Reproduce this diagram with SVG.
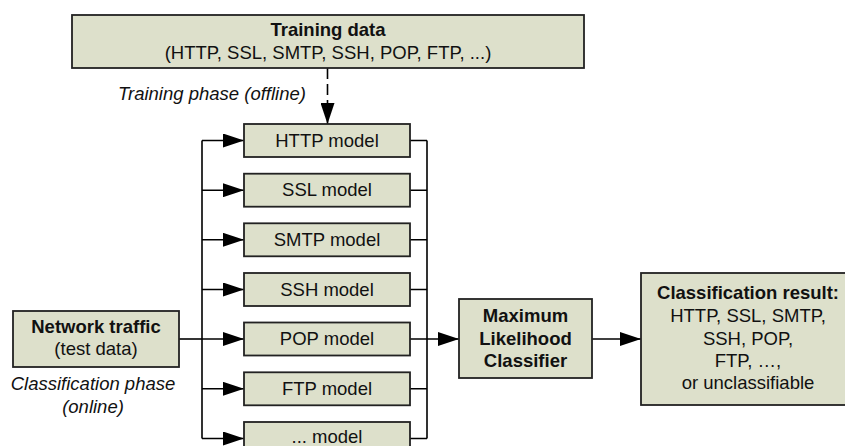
<svg xmlns="http://www.w3.org/2000/svg" width="845" height="446" viewBox="0 0 845 446">
<defs>
<marker id="arr" markerUnits="userSpaceOnUse" markerWidth="22" markerHeight="14" refX="21" refY="7" orient="auto">
<path d="M0,0 L21,7 L0,14 z" fill="#000"/>
</marker>
<style>
.box{fill:#dde0cb;stroke:#222;stroke-width:1.8}
.t{font-family:"Liberation Sans",Arial,sans-serif;font-size:18.5px;fill:#111;text-anchor:middle}
.b{font-weight:bold}
.i{font-style:italic}
.ln{fill:none;stroke:#000;stroke-width:1.6}
</style>
</defs>
<rect width="845" height="446" fill="#fff"/>
<g id="connectors">
<line class="ln" x1="327.5" y1="68" x2="327.5" y2="124" stroke-dasharray="11,5" marker-end="url(#arr)"/>
<path class="ln" d="M202,140.5 V438.5 M427,140.5 V438.5"/>
<line class="ln" x1="179" y1="339" x2="202" y2="339"/>
<line class="ln" x1="202" y1="140.5" x2="244" y2="140.5" marker-end="url(#arr)"/>
<line class="ln" x1="202" y1="190.2" x2="244" y2="190.2" marker-end="url(#arr)"/>
<line class="ln" x1="202" y1="239.8" x2="244" y2="239.8" marker-end="url(#arr)"/>
<line class="ln" x1="202" y1="289.5" x2="244" y2="289.5" marker-end="url(#arr)"/>
<line class="ln" x1="202" y1="339" x2="244" y2="339" marker-end="url(#arr)"/>
<line class="ln" x1="202" y1="388.8" x2="244" y2="388.8" marker-end="url(#arr)"/>
<line class="ln" x1="202" y1="438.5" x2="244" y2="438.5" marker-end="url(#arr)"/>
<path class="ln" d="M410,140.5 H427 M410,190.2 H427 M410,239.8 H427 M410,289.5 H427 M410,388.8 H427 M410,438.5 H427"/>
<line class="ln" x1="410" y1="339" x2="459" y2="339" marker-end="url(#arr)"/>
<line class="ln" x1="592" y1="339" x2="641" y2="339" marker-end="url(#arr)"/>
</g>
<g id="training-data">
<rect class="box" x="72" y="15" width="512" height="53"/>
<text class="t b" x="328" y="36">Training data</text>
<text class="t" x="328" y="59">(HTTP, SSL, SMTP, SSH, POP, FTP, ...)</text>
</g>
<text class="t i" x="212" y="100">Training phase (offline)</text>
<g id="http-model"><rect class="box" x="244" y="124" width="166" height="33"/><text class="t" x="327" y="146.5">HTTP model</text></g>
<g id="ssl-model"><rect class="box" x="244" y="173.7" width="166" height="33"/><text class="t" x="327" y="196.2">SSL model</text></g>
<g id="smtp-model"><rect class="box" x="244" y="223.3" width="166" height="33"/><text class="t" x="327" y="245.8">SMTP model</text></g>
<g id="ssh-model"><rect class="box" x="244" y="273" width="166" height="33"/><text class="t" x="327" y="295.5">SSH model</text></g>
<g id="pop-model"><rect class="box" x="244" y="322.5" width="166" height="33"/><text class="t" x="327" y="345">POP model</text></g>
<g id="ftp-model"><rect class="box" x="244" y="372.3" width="166" height="33"/><text class="t" x="327" y="394.8">FTP model</text></g>
<g id="other-model"><rect class="box" x="244" y="422" width="166" height="33"/><text class="t" x="327" y="443">... model</text></g>
<g id="network-traffic">
<rect class="box" x="13" y="311" width="166" height="56"/>
<text class="t b" x="96" y="333">Network traffic</text>
<text class="t" x="96" y="355">(test data)</text>
</g>
<text class="t i" x="93" y="390">Classification phase</text>
<text class="t i" x="93" y="413">(online)</text>
<g id="ml-classifier">
<rect class="box" x="459" y="299" width="133" height="79"/>
<text class="t b" x="525.5" y="322">Maximum</text>
<text class="t b" x="525.5" y="344.5">Likelihood</text>
<text class="t b" x="525.5" y="367">Classifier</text>
</g>
<g id="classification-result">
<rect class="box" x="641" y="273" width="214" height="132"/>
<text class="t b" x="748" y="299">Classification result:</text>
<text class="t" x="748" y="322">HTTP, SSL, SMTP,</text>
<text class="t" x="748" y="344.5">SSH, POP,</text>
<text class="t" x="748" y="367">FTP, …,</text>
<text class="t" x="748" y="389">or unclassifiable</text>
</g>
</svg>
